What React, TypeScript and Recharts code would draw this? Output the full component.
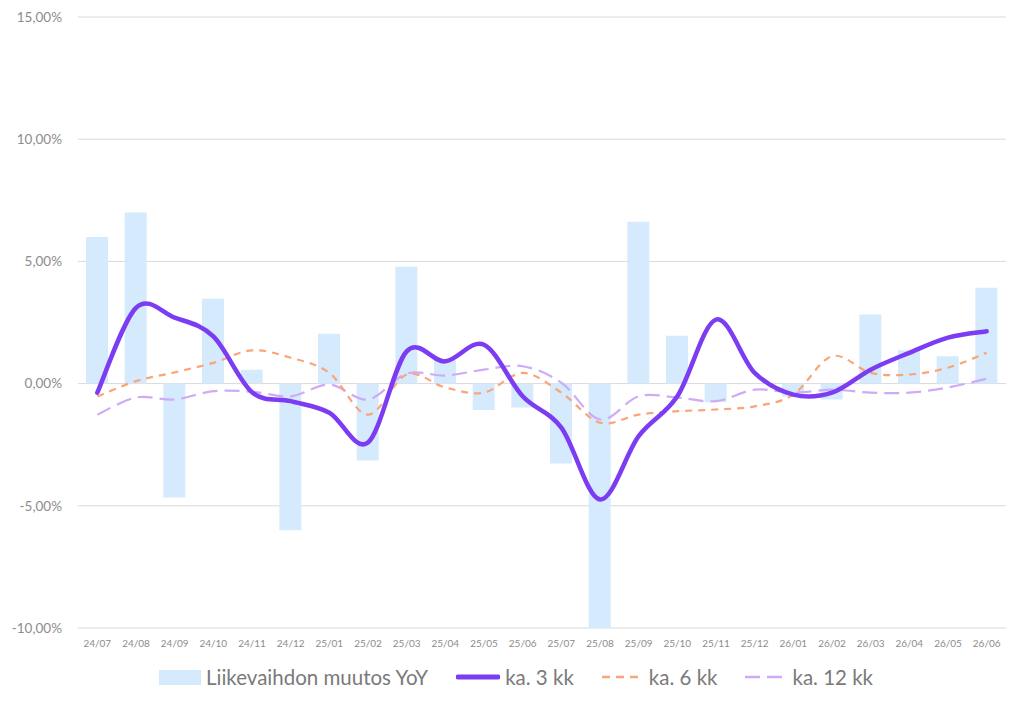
import React from 'react';
import {
  Bar,
  CartesianGrid,
  ComposedChart,
  Legend,
  Line,
  XAxis,
  YAxis,
} from 'recharts';

const months = [
  '24/07', '24/08', '24/09', '24/10', '24/11', '24/12',
  '25/01', '25/02', '25/03', '25/04', '25/05', '25/06',
  '25/07', '25/08', '25/09', '25/10', '25/11', '25/12',
  '26/01', '26/02', '26/03', '26/04', '26/05', '26/06',
];

const yoy = [
  6.0, 7.0, -4.66, 3.47, 0.57, -6.0,
  2.04, -3.15, 4.78, 0.98, -1.08, -0.98,
  -3.27, -10.5, 6.62, 1.96, -0.76, 0.0,
  -0.53, -0.65, 2.83, 1.36, 1.12, 3.92,
];

const avg3 = [
  -0.37, 3.1, 2.7, 1.93, -0.35, -0.72,
  -1.19, -2.41, 1.32, 0.91, 1.59, -0.52,
  -1.8, -4.74, -2.15, -0.52, 2.62, 0.44,
  -0.45, -0.37, 0.57, 1.26, 1.88, 2.14,
];

const avg6 = [
  -0.52, 0.1, 0.46, 0.85, 1.36, 1.06,
  0.44, -1.27, 0.37, -0.16, -0.37, 0.44,
  -0.37, -1.6, -1.27, -1.13, -1.06, -0.93,
  -0.45, 1.12, 0.44, 0.37, 0.65, 1.26,
];

const avg12 = [
  -1.27, -0.57, -0.65, -0.31, -0.33, -0.52,
  -0.04, -0.65, 0.41, 0.33, 0.57, 0.71,
  0.04, -1.47, -0.52, -0.57, -0.72, -0.25,
  -0.37, -0.25, -0.37, -0.37, -0.16, 0.2,
];

const yTicks = [-10, -5, 0, 5, 10, 15];

const data = months.map((m, i) => ({
  month: m,
  yoy: yoy[i],
  avg3: avg3[i],
  avg6: avg6[i],
  avg12: avg12[i],
}));

const BAR = '#d5eafc';
const PURPLE = '#7b3cf2';
const ORANGE = '#f8a57a';
const LILAC = '#cfaaf6';
const TEXT = '#8c8c8c';

// Excel-style smoothed line (Catmull-Rom -> bezier)
function excelSmooth(context: any) {
  let pts: Array<[number, number]> = [];
  return {
    areaStart() {},
    areaEnd() {},
    lineStart() {
      pts = [];
    },
    point(x: number, y: number) {
      pts.push([x, y]);
    },
    lineEnd() {
      const n = pts.length;
      if (!n) return;
      context.moveTo(pts[0][0], pts[0][1]);
      for (let i = 0; i < n - 1; i++) {
        const p0 = pts[Math.max(i - 1, 0)];
        const p1 = pts[i];
        const p2 = pts[i + 1];
        const p3 = pts[Math.min(i + 2, n - 1)];
        context.bezierCurveTo(
          p1[0] + (p2[0] - p0[0]) / 6,
          p1[1] + (p2[1] - p0[1]) / 6,
          p2[0] - (p3[0] - p1[0]) / 6,
          p2[1] - (p3[1] - p1[1]) / 6,
          p2[0],
          p2[1],
        );
      }
    },
  };
}

function LegendRow() {
  const item = { display: 'flex', alignItems: 'center', marginRight: 28 };
  const label = { marginLeft: 5 };
  return (
    <div
      style={{
        display: 'flex',
        justifyContent: 'center',
        alignItems: 'center',
        height: 40,
        paddingTop: 6,
        boxSizing: 'border-box' as const,
        fontFamily: 'Lato, sans-serif',
        fontSize: 20.5,
        color: '#7a7a7a',
        paddingLeft: 26,
      }}
    >
      <div style={item}>
        <span style={{ width: 42, height: 15, background: BAR, display: 'inline-block' }} />
        <span style={label}>Liikevaihdon muutos YoY</span>
      </div>
      <div style={item}>
        <svg width={44} height={10}>
          <line x1={2} y1={5} x2={42} y2={5} stroke={PURPLE} strokeWidth={5} strokeLinecap="round" />
        </svg>
        <span style={label}>ka. 3 kk</span>
      </div>
      <div style={item}>
        <svg width={42} height={10}>
          <line x1={0} y1={5} x2={42} y2={5} stroke={ORANGE} strokeWidth={2.5} strokeDasharray="8 6" />
        </svg>
        <span style={label}>ka. 6 kk</span>
      </div>
      <div style={{ ...item, marginRight: 0 }}>
        <svg width={42} height={10}>
          <line x1={0} y1={5} x2={42} y2={5} stroke={LILAC} strokeWidth={2.5} strokeDasharray="15 7" />
        </svg>
        <span style={label}>ka. 12 kk</span>
      </div>
    </div>
  );
}

export default function App() {
  return (
    <div style={{ position: 'absolute', left: 0, top: 0, background: '#fff' }}>
      <ComposedChart
        width={1024}
        height={708}
        data={data}
        margin={{ top: 17, right: 18, bottom: 14, left: 0 }}
        barSize={22}
      >
        <CartesianGrid vertical={false} stroke="#d9d9d9" />
        <XAxis
          dataKey="month"
          axisLine={false}
          tickLine={false}
          interval={0}
          tick={{ fontSize: 10, fill: TEXT, fontFamily: 'Lato, sans-serif' }}
          tickMargin={6}
          height={26}
        />
        <YAxis
          domain={[-10, 15]}
          ticks={yTicks}
          allowDataOverflow
          axisLine={false}
          tickLine={false}
          width={78}
          tickMargin={10}
          tick={{ fontSize: 13.5, fill: TEXT, fontFamily: 'Lato, sans-serif' }}
          tickFormatter={(v: number) => `${v},00%`}
        />
        <Legend verticalAlign="bottom" height={40} content={() => <LegendRow />} />
        <Bar dataKey="yoy" fill={BAR} isAnimationActive={false} />
        <Line
          dataKey="avg12"
          type={excelSmooth as any}
          stroke={LILAC}
          strokeWidth={2.2}
          strokeDasharray="15 7"
          dot={false}
          isAnimationActive={false}
        />
        <Line
          dataKey="avg6"
          type={excelSmooth as any}
          stroke={ORANGE}
          strokeWidth={2.2}
          strokeDasharray="7 6"
          dot={false}
          isAnimationActive={false}
        />
        <Line
          dataKey="avg3"
          type={excelSmooth as any}
          stroke={PURPLE}
          strokeWidth={4.5}
          strokeLinecap="round"
          dot={false}
          isAnimationActive={false}
        />
      </ComposedChart>
    </div>
  );
}
